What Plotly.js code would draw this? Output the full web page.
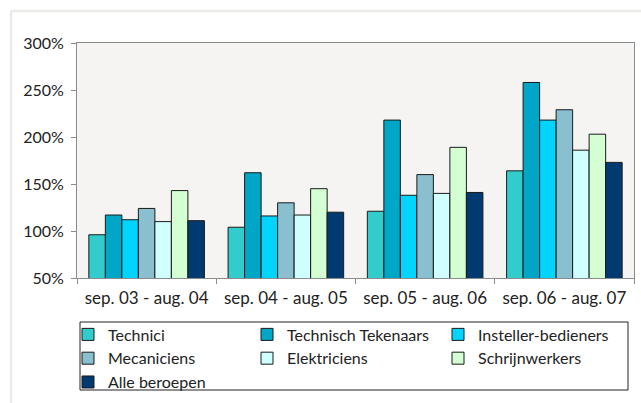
<!DOCTYPE html>
<html>
<head>
<meta charset="utf-8">
<script src="https://cdn.plot.ly/plotly-3.0.1.min.js"></script>
<style>
  html, body { margin: 0; padding: 0; background: #ffffff; }
  #chart { width: 641px; height: 403px; }
</style>
</head>
<body>
<div id="chart"></div>
<script>
// Categories (periods)
const periods = ["sep. 03 - aug. 04", "sep. 04 - aug. 05", "sep. 05 - aug. 06", "sep. 06 - aug. 07"];

// Series values (%)
const technici        = [96, 104, 121, 164];
const technischTeken  = [117, 162, 218, 258];
const instellerBed    = [112, 116, 138, 218];
const mecaniciens     = [124, 130, 160, 229];
const elektriciens    = [110, 117, 140, 186];
const schrijnwerkers  = [143, 145, 189, 203];
const alleBeroepen    = [111, 120, 141, 173];

// Series names
const seriesNames = ["Technici", "Technisch Tekenaars", "Insteller-bedieners", "Mecaniciens", "Elektriciens", "Schrijnwerkers", "Alle beroepen"];
const seriesValues = [technici, technischTeken, instellerBed, mecaniciens, elektriciens, schrijnwerkers, alleBeroepen];
const seriesColors = ["#33CCCC", "#00A6C6", "#00D4FF", "#89BFCE", "#D0FFFF", "#D3FFD3", "#003A70"];
// legend column each series is listed in
const seriesLegend = ["legend", "legend2", "legend3", "legend", "legend2", "legend3", "legend"];

// Y tick values
const yTicks = [50, 100, 150, 200, 250, 300];

const FONT = "Lato, Open Sans, sans-serif";

const traces = seriesNames.map((name, i) => ({
  type: "bar",
  name: name,
  x: periods,
  y: seriesValues[i],
  legend: seriesLegend[i],
  marker: { color: seriesColors[i], line: { color: "#1a1a1a", width: 1 } },
  hoverinfo: "x+y+name"
}));

function legendCol(xpx) {
  return {
    orientation: "v",
    x: (xpx - 77) / 557, xanchor: "left", xref: "paper",
    y: -0.168, yanchor: "top", yref: "paper",
    borderwidth: 0,
    bgcolor: "rgba(0,0,0,0)",
    itemwidth: 30,
    tracegroupgap: 0,
    font: { family: FONT, size: 16, color: "#222222" },
    traceorder: "normal"
  };
}

const layout = {
  width: 641,
  height: 403,
  margin: { l: 77, r: 7, t: 43, b: 125, autoexpand: false },
  paper_bgcolor: "#ffffff",
  plot_bgcolor: "#F5F4F2",
  font: { family: FONT, size: 16, color: "#222222" },
  barmode: "group",
  bargap: 0.17,
  bargroupgap: 0,
  showlegend: true,
  legend: legendCol(68),
  legend2: legendCol(247),
  legend3: legendCol(438),
  xaxis: {
    type: "category",
    showgrid: false,
    showline: true,
    linecolor: "#8c8c8c",
    linewidth: 1,
    mirror: true,
    ticks: "outside",
    tickson: "boundaries",
    ticklen: 5,
    ticklabelstandoff: 5,
    tickcolor: "#8c8c8c",
    tickfont: { family: FONT, size: 17, color: "#222222" },
    fixedrange: true
  },
  yaxis: {
    range: [50, 300],
    tickvals: yTicks,
    ticktext: yTicks.map(v => v + "%"),
    showgrid: false,
    zeroline: false,
    showline: true,
    linecolor: "#8c8c8c",
    linewidth: 1,
    mirror: true,
    ticks: "outside",
    ticklen: 5,
    ticklabelstandoff: 4,
    tickcolor: "#8c8c8c",
    tickfont: { family: FONT, size: 16, color: "#222222" },
    fixedrange: true
  },
  shapes: [
    { type: "line", xref: "paper", yref: "paper", x0: -0.1185, x1: 1.02, y0: 1.136, y1: 1.136,
      line: { color: "#ECEAE6", width: 2.5 } },
    { type: "line", xref: "paper", yref: "paper", x0: -0.1185, x1: -0.1185, y0: 1.136, y1: -0.56,
      line: { color: "#ECEAE6", width: 2.5 } },
    { type: "rect", xref: "paper", yref: "paper", layer: "below",
      x0: (80 - 77) / 557, x1: (628 - 77) / 557, y0: (278 - 322) / 235, y1: (278 - 390) / 235,
      fillcolor: "#ffffff", line: { color: "#222222", width: 1 } }
  ]
};

Plotly.newPlot("chart", traces, layout, { displayModeBar: false, staticPlot: true });
</script>
</body>
</html>
